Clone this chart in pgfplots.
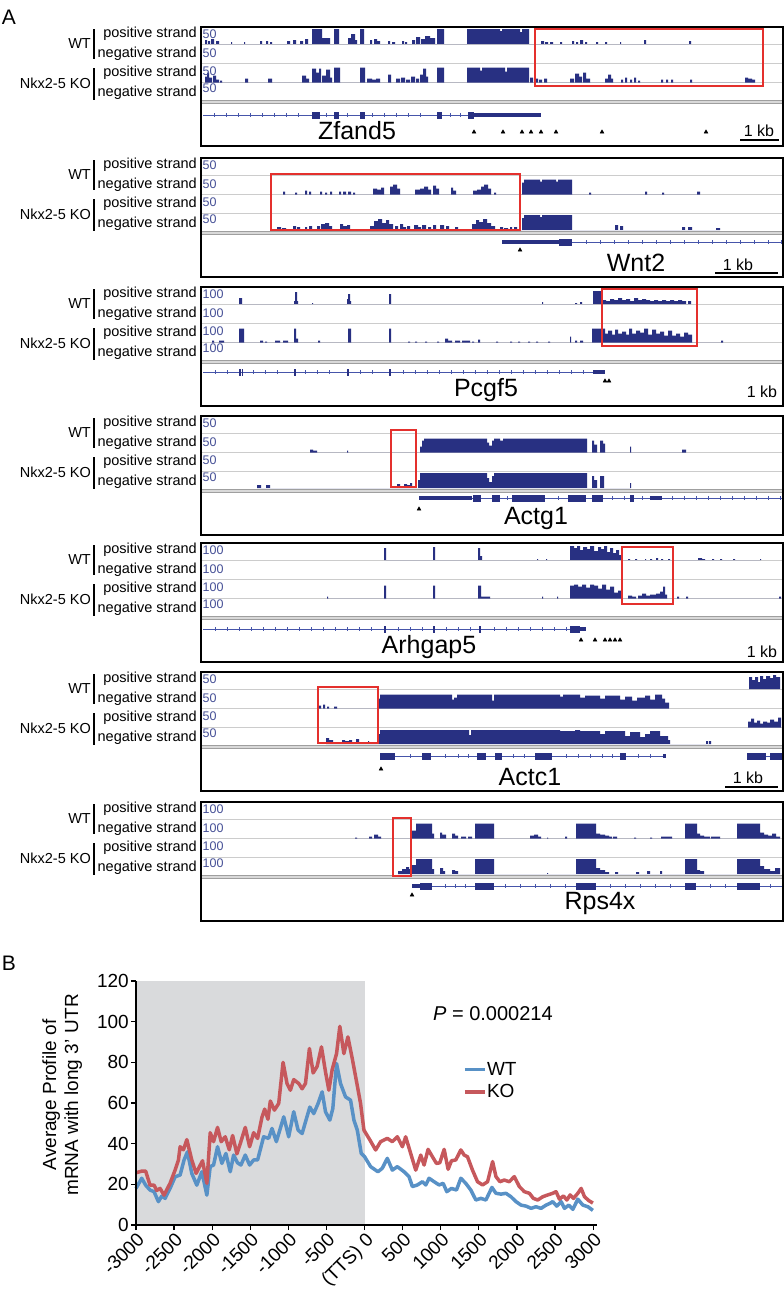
\documentclass[border=0pt]{standalone}
\usepackage{fontspec}
\setmainfont{Liberation Sans}
\usepackage{pgfplots}
\pgfplotsset{compat=1.18}
\definecolor{covc}{RGB}{40,48,130}
\definecolor{intr}{RGB}{70,85,170}
\definecolor{scl}{RGB}{70,80,150}
\definecolor{redbox}{RGB}{228,48,45}
\definecolor{wtc}{RGB}{88,145,198}
\definecolor{koc}{RGB}{198,88,92}
\definecolor{shade}{RGB}{217,218,220}
\newcommand\fA{\fontsize{14.5}{16}\selectfont}
\newcommand\fS{\fontsize{12.5}{13}\selectfont}
\newcommand\fG{\fontsize{25}{28}\selectfont}
\newcommand\fK{\fontsize{16}{18}\selectfont}
\newcommand\fB{\fontsize{19}{22}\selectfont}
\pgfplotsset{
 cov/.style={scale only axis, width=582pt, height=16pt, xmin=201, xmax=783, ymin=0, ymax=16, hide axis, anchor=south west, clip=false},
 gene/.style={scale only axis, width=582pt, height=30pt, xmin=201, xmax=783, ymin=-25, ymax=5, hide axis, anchor=south west, clip=false},
}
\newcommand\track[2]{%
\begin{axis}[cov, at={(201pt,-#1pt)}]
\addplot[const plot, fill=covc, draw=none] coordinates {#2} \closedcycle;
\end{axis}}
\newcommand\panelbg[1]{%
\begin{scope}[x=1pt,y=1pt]
\foreach \d in {17,36.5,55.5} \draw[gray!40, line width=0.7pt] (201,{-(#1+\d)}) -- (783,{-(#1+\d)});
\end{scope}}
\newcommand\panelfg[2]{%
\begin{scope}[x=1pt,y=1pt]
\fill[gray!30] (201,{-(#1+73)}) rectangle (783,{-(#1+76)});
\draw[gray!75, line width=0.7pt] (201,{-(#1+73)}) -- (783,{-(#1+73)}) (201,{-(#1+76)}) -- (783,{-(#1+76)});
\node[anchor=east, inner sep=0pt, font=\fA] at (91,{-(#1+16.5)}) {WT};
\node[anchor=east, inner sep=0pt, font=\fA] at (91,{-(#1+56)}) {Nkx2-5 KO};
\draw[line width=1.5pt] (94,{-(#1+2)}) -- (94,{-(#1+32)}) (94,{-(#1+41)}) -- (94,{-(#1+73)});
\foreach \d/\t in {7/positive,26.5/negative,46/positive,66/negative} \node[anchor=east, inner sep=0pt, font=\fA] at (197,{-(#1+\d)}) {\t\ strand};
\foreach \d in {7,26,44,61} \node[anchor=west, inner sep=0pt, font=\fS, text=scl] at (202.5,{-(#1+\d)}) {#2};
\draw[line width=1.6pt] (201,{-#1}) rectangle (783,{-(#1+119)});
\end{scope}}
\begin{document}
\begin{tikzpicture}
\path[use as bounding box] (0pt,0pt) rectangle (784pt,-1294pt);
\node[font=\fontsize{21}{22}\selectfont, inner sep=0pt] at (9pt,-17pt) {A};
\node[font=\fontsize{21}{22}\selectfont, inner sep=0pt] at (9pt,-963pt) {B};
% ---------- Panel 1: Zfand5 (T=27)
\panelbg{27}
\track{44}{(205,4)(207,0)(208,3)(210,0)(211,5)(214,0)(216,3)(219,0)(231,2)(232,0)(244,2)(245,0)(260,3)(262,0)(266,3)(268,0)(270,2)(272,0)(287,3)(290,0)(293,4)(296,0)(300,3)(303,0)(305,5)(308,0)(312,15)(322,6)(330,0)(334,15)(339,0)(348,6)(351,10)(355,4)(357,0)(360,15)(364,0)(370,4)(372,0)(374,5)(377,3)(380,0)(388,3)(390,0)(392,2)(395,0)(402,3)(404,0)(405,2)(407,0)(412,4)(415,0)(416,7)(420,0)(421,5)(425,8)(430,6)(435,0)(437,15)(444,0)(467,15)(500,13)(502,15)(520,12)(522,15)(529,0)(541,3)(544,0)(545,2)(548,0)(550,2)(553,0)(560,2)(562,0)(572,3)(574,0)(576,2)(578,0)(580,4)(583,0)(585,2)(587,0)(596,2)(598,0)(605,2)(607,0)(620,2)(621,0)(644,4)(646,0)(689,3)(691,0)}
\track{82.5}{(205,6)(207,10)(209,5)(212,0)(213,7)(216,3)(219,0)(220,2)(222,0)(245,4)(248,0)(268,4)(272,0)(302,7)(306,4)(309,0)(312,14)(316,10)(319,14)(321,0)(322,7)(326,13)(330,5)(332,0)(334,15)(340,0)(360,15)(365,0)(367,4)(372,3)(376,4)(380,0)(388,8)(391,0)(396,4)(400,0)(401,5)(405,0)(406,3)(410,0)(411,6)(415,0)(416,4)(419,0)(420,8)(423,14)(426,6)(428,0)(437,15)(444,0)(467,15)(480,12)(482,15)(505,11)(507,15)(529,0)(530,5)(533,0)(534,4)(538,0)(539,3)(542,0)(544,4)(547,0)(570,4)(574,0)(575,9)(579,6)(582,0)(583,10)(586,4)(590,0)(605,4)(608,8)(611,4)(613,0)(621,3)(623,0)(625,5)(627,0)(630,3)(632,0)(634,5)(636,0)(638,2)(640,0)(661,3)(663,0)(666,3)(668,0)(671,3)(673,0)(690,3)(692,0)(745,5)(748,4)(752,3)(755,0)}
\begin{axis}[gene, at={(201pt,-140pt)}]
\addplot[intr, line width=0.8pt] coordinates {(203,0)(470,0)};
\addplot[intr, only marks, mark=|, mark size=2pt] coordinates {(214,0)(226,0)(238,0)(250,0)(262,0)(274,0)(286,0)(298,0)(326,0)(347,0)(372,0)(384,0)(396,0)(408,0)(420,0)(450,0)(460,0)};
\addplot[covc, line width=7pt, unbounded coords=jump] coordinates {(312,0)(320,0)(nan,nan)(334,0)(339,0)(nan,nan)(360,0)(365,0)(nan,nan)(437,0)(442,0)(nan,nan)(468,0)(474,0)};
\addplot[covc, line width=4.5pt] coordinates {(474,0)(541,0)};
\addplot[black, only marks, mark=triangle*, mark size=2.2pt] coordinates {(474,-17)(503,-17)(522,-17)(531,-17)(541,-17)(556,-17)(602,-17)(706,-17)};
\end{axis}
\panelfg{27}{50}
\begin{scope}[x=1pt,y=1pt]
\node[font=\fG] at (357,-131) {Zfand5};
\node[font=\fK] at (759,-131) {1 kb};
\draw[line width=1.5pt] (740,-140) -- (779,-140);
\end{scope}
% ---------- Panel 2: Wnt2 (T=158)
\panelbg{158}
\track{194.5}{(283,3)(285,0)(295,2)(297,0)(305,4)(307,0)(309,3)(311,0)(320,3)(322,0)(325,2)(327,0)(330,3)(332,0)(339,3)(341,0)(343,3)(346,0)(348,3)(351,0)(353,2)(355,0)(373,6)(377,5)(381,7)(384,0)(390,8)(393,10)(397,6)(400,0)(415,5)(420,6)(424,8)(428,5)(431,0)(433,9)(436,6)(439,0)(451,7)(453,4)(456,0)(473,4)(477,5)(481,8)(484,10)(488,6)(491,0)(494,2)(496,0)(522,12)(524,15)(540,13)(542,15)(556,13)(558,15)(572,0)(589,2)(591,0)(645,3)(647,0)(662,2)(664,0)(697,3)(700,0)}
\track{230}{(277,3)(281,0)(282,2)(286,0)(293,4)(296,0)(297,3)(300,0)(305,3)(307,0)(309,4)(312,0)(317,4)(320,0)(321,6)(325,7)(329,4)(332,0)(340,6)(343,4)(347,5)(350,0)(370,4)(374,9)(378,11)(382,7)(386,10)(389,6)(393,0)(395,4)(398,0)(400,6)(403,3)(406,0)(407,4)(410,0)(414,5)(418,3)(421,0)(422,5)(426,0)(428,3)(431,0)(433,5)(436,0)(440,5)(444,0)(446,4)(449,0)(455,3)(458,0)(472,6)(476,10)(479,8)(483,11)(487,7)(491,4)(495,0)(500,3)(503,0)(504,2)(508,0)(510,3)(512,0)(514,3)(517,0)(522,12)(524,15)(540,13)(542,15)(572,0)(615,5)(618,0)(620,4)(623,0)(682,3)(685,0)(688,3)(692,0)(716,2)(720,0)}
\begin{axis}[gene, at={(201pt,-267pt)}]
\addplot[intr, line width=0.8pt] coordinates {(572,0)(783,0)};
\addplot[intr, only marks, mark=|, mark size=2pt] coordinates {(586,0)(600,0)(614,0)(628,0)(642,0)(656,0)(670,0)(684,0)(698,0)(712,0)(726,0)(740,0)(754,0)(768,0)(781,0)};
\addplot[covc, line width=4.5pt] coordinates {(502,0)(559,0)};
\addplot[covc, line width=7pt] coordinates {(559,0)(572,0)};
\addplot[black, only marks, mark=triangle*, mark size=2.2pt] coordinates {(520,-8)};
\end{axis}
\panelfg{158}{50}
\begin{scope}[x=1pt,y=1pt]
\node[font=\fG] at (636,-263) {Wnt2};
\node[font=\fK] at (738,-265) {1 kb};
\draw[line width=1.5pt] (715,-273) -- (778,-273);
\end{scope}
% ---------- Panel 3: Pcgf5 (T=287)
\panelbg{287}
\track{304}{(239,6)(242,0)(294,3)(295,12)(297,3)(298,0)(312,1)(313,0)(347,5)(348,10)(350,3)(351,0)(389,10)(391,0)(542,2)(543,0)(575,1)(577,0)(580,2)(582,0)(593,13)(602,4)(606,3)(610,5)(614,4)(618,6)(622,4)(626,5)(630,3)(634,6)(638,4)(642,5)(646,4)(650,3)(654,4)(658,3)(662,4)(666,3)(670,4)(674,3)(678,4)(682,3)(686,0)(688,3)(691,0)}
\track{342.5}{(212,2)(214,0)(219,2)(224,0)(239,14)(244,0)(260,2)(263,0)(265,1)(267,0)(275,2)(280,0)(283,2)(288,0)(294,14)(296,4)(298,0)(318,2)(320,0)(348,14)(351,0)(389,14)(391,0)(408,1)(410,0)(415,1)(417,0)(425,1)(427,0)(437,1)(439,0)(445,4)(448,2)(452,0)(455,2)(460,0)(462,2)(470,0)(472,1)(474,0)(478,3)(480,0)(496,1)(498,0)(510,1)(512,0)(518,1)(520,0)(528,1)(530,0)(536,1)(538,0)(548,1)(550,0)(570,6)(571,0)(575,2)(577,0)(580,2)(583,0)(592,14)(605,9)(608,12)(612,8)(615,13)(618,9)(622,11)(626,8)(629,14)(632,9)(636,12)(640,10)(644,14)(648,8)(652,13)(656,9)(660,11)(664,7)(668,12)(672,7)(676,9)(680,6)(684,10)(688,8)(692,0)(721,2)(723,0)}
\begin{axis}[gene, at={(201pt,-397pt)}]
\addplot[intr, line width=0.8pt] coordinates {(203,0)(593,0)};
\addplot[intr, only marks, mark=|, mark size=2pt] coordinates {(215,0)(227,0)(253,0)(265,0)(277,0)(305,0)(317,0)(329,0)(360,0)(372,0)(403,0)(415,0)(427,0)(439,0)(451,0)(463,0)(475,0)(487,0)(499,0)(511,0)(523,0)(535,0)(547,0)(559,0)(571,0)(583,0)};
\addplot[covc, line width=7pt, unbounded coords=jump] coordinates {(239,0)(240.5,0)(nan,nan)(241.5,0)(243,0)(nan,nan)(294,0)(296,0)(nan,nan)(347,0)(349,0)(nan,nan)(389,0)(391,0)};
\addplot[covc, line width=4.5pt] coordinates {(593,0)(605,0)};
\addplot[black, only marks, mark=triangle*, mark size=2.2pt] coordinates {(605,-9)(609,-9)};
\end{axis}
\panelfg{287}{100}
\begin{scope}[x=1pt,y=1pt]
\node[font=\fG] at (486,-390) {Pcgf5};
\node[font=\fK] at (762,-392) {1 kb};
\end{scope}
% ---------- Panel 4: Actg1 (T=416)
\panelbg{416}
\track{452.5}{(310,3)(313,2)(317,0)(347,2)(348,0)(420,6)(422,12)(424,14)(487,10)(489,7)(492,12)(494,14)(500,12)(503,14)(587,0)(592,12)(594,8)(597,0)(600,12)(603,9)(605,0)(630,6)(631,0)(682,3)(686,0)}
\track{488}{(257,3)(261,0)(266,3)(270,0)(397,4)(400,2)(402,0)(404,4)(407,3)(410,5)(412,0)(418,8)(420,15)(487,10)(489,6)(492,12)(494,15)(587,0)(592,12)(594,8)(597,0)(600,12)(604,0)(630,5)(631,0)}
\begin{axis}[gene, at={(201pt,-523pt)}]
\addplot[intr, line width=0.8pt] coordinates {(472,0)(783,0)};
\addplot[intr, only marks, mark=|, mark size=2pt] coordinates {(507,0)(558,0)(612,0)(624,0)(642,0)(672,0)(684,0)(696,0)(708,0)(720,0)(732,0)(744,0)(756,0)(768,0)(780,0)};
\addplot[covc, line width=4.5pt, unbounded coords=jump] coordinates {(419,0)(472,0)(nan,nan)(650,0)(662,0)};
\addplot[covc, line width=7pt, unbounded coords=jump] coordinates {(473,0)(481,0)(nan,nan)(492,0)(500,0)(nan,nan)(512,0)(545,0)(nan,nan)(568,0)(586,0)(nan,nan)(592,0)(603,0)(nan,nan)(630,0)(634,0)};
\addplot[black, only marks, mark=triangle*, mark size=2.2pt] coordinates {(419,-11)};
\end{axis}
\panelfg{416}{50}
\begin{scope}[x=1pt,y=1pt]
\node[font=\fG] at (536,-518) {Actg1};
\end{scope}
% ---------- Panel 5: Arhgap5 (T=543)
\panelbg{543}
\track{560}{(384,12)(386,0)(433,13)(435,0)(478,12)(480,4)(482,0)(537,1)(538,0)(546,1)(547,0)(570,14)(574,12)(577,14)(580,10)(583,13)(587,11)(590,14)(594,9)(598,13)(601,11)(604,14)(607,8)(610,12)(613,7)(616,10)(619,5)(622,0)(628,1)(630,0)(635,1)(637,0)(645,1)(646,0)(650,1)(652,0)(656,2)(658,0)(661,1)(663,0)(668,1)(670,0)(698,2)(702,1)(705,0)(712,1)(714,0)(720,1)(722,0)(733,1)(735,0)(760,1)(761,0)}
\track{598.5}{(327,2)(328,0)(384,13)(386,0)(433,13)(435,0)(478,13)(481,2)(490,0)(542,2)(543,0)(557,2)(558,0)(570,13)(574,14)(578,12)(582,14)(586,11)(590,14)(594,13)(598,10)(602,14)(606,9)(610,12)(614,6)(618,8)(622,0)(628,3)(632,2)(636,0)(638,3)(642,5)(646,3)(650,4)(656,5)(660,7)(663,12)(665,4)(667,0)(677,2)(679,0)(686,2)(688,0)(779,2)(781,0)}
\begin{axis}[gene, at={(201pt,-654pt)}]
\addplot[intr, line width=0.8pt] coordinates {(203,0)(570,0)};
\addplot[intr, only marks, mark=|, mark size=2pt] coordinates {(215,0)(227,0)(239,0)(251,0)(263,0)(275,0)(287,0)(299,0)(311,0)(323,0)(335,0)(347,0)(359,0)(371,0)(398,0)(410,0)(422,0)(446,0)(458,0)(470,0)(494,0)(506,0)(518,0)(530,0)(542,0)(554,0)(566,0)};
\addplot[covc, line width=7pt, unbounded coords=jump] coordinates {(384,0)(386,0)(nan,nan)(433,0)(435,0)(nan,nan)(479,0)(481,0)(nan,nan)(570,0)(580,0)};
\addplot[covc, line width=4.5pt] coordinates {(580,0)(586,0)};
\addplot[black, only marks, mark=triangle*, mark size=2.2pt] coordinates {(581,-11)(595,-11)(605,-11)(610,-11)(615,-11)(620,-11)};
\end{axis}
\panelfg{543}{100}
\begin{scope}[x=1pt,y=1pt]
\node[font=\fG] at (429,-647) {Arhgap5};
\node[font=\fK] at (762,-652) {1 kb};
\end{scope}
% ---------- Panel 6: Actc1 (T=672)
\panelbg{672}
\track{689}{(749,12)(752,9)(755,12)(758,7)(760,13)(763,10)(766,13)(770,11)(773,14)(776,12)(780,0)}
\track{708.5}{(319,3)(321,0)(323,4)(325,0)(327,2)(329,0)(334,2)(337,0)(378,10)(380,14)(452,9)(454,11)(457,14)(492,8)(494,14)(560,12)(563,14)(580,11)(585,13)(600,10)(605,13)(620,9)(625,12)(632,8)(637,11)(645,13)(650,9)(655,14)(662,10)(665,6)(669,0)}
\track{727.5}{(748,6)(751,9)(754,5)(757,7)(760,4)(763,6)(767,5)(770,8)(774,6)(778,10)(781,0)}
\track{744}{(326,6)(329,4)(333,2)(336,0)(342,4)(345,3)(349,4)(352,2)(356,5)(359,0)(368,3)(369,0)(378,10)(380,14)(469,9)(471,14)(560,13)(575,14)(580,13)(600,10)(605,13)(625,8)(630,12)(640,7)(645,10)(650,13)(660,8)(668,4)(670,0)(706,3)(708,0)(709,3)(711,0)}
\begin{axis}[gene, at={(201pt,-781pt)}]
\addplot[intr, line width=0.8pt, unbounded coords=jump] coordinates {(395,0)(665,0)(nan,nan)(747,0)(783,0)};
\addplot[intr, only marks, mark=|, mark size=2pt] coordinates {(410,0)(445,0)(458,0)(468,0)(513,0)(524,0)(566,0)(578,0)(590,0)(602,0)(612,0)(638,0)(650,0)};
\addplot[covc, line width=7pt, unbounded coords=jump] coordinates {(380,0)(395,0)(nan,nan)(422,0)(431,0)(nan,nan)(477,0)(486,0)(nan,nan)(495,0)(502,0)(nan,nan)(535,0)(552,0)(nan,nan)(620,0)(626,0)(nan,nan)(747,0)(766,0)(nan,nan)(770,0)(783,0)};
\addplot[covc, line width=4.5pt] coordinates {(663,0)(666,0)};
\addplot[black, only marks, mark=triangle*, mark size=2.2pt] coordinates {(381,-13)};
\end{axis}
\panelfg{672}{50}
\begin{scope}[x=1pt,y=1pt]
\node[font=\fG] at (530,-777) {Actc1};
\node[font=\fK] at (748,-778) {1 kb};
\draw[line width=1.5pt] (725,-787) -- (778,-787);
\end{scope}
% ---------- Panel 7: Rps4x (T=802)
\panelbg{802}
\track{838.5}{(355,1)(357,0)(369,2)(372,0)(374,4)(378,2)(381,0)(412,8)(416,15)(432,5)(434,0)(440,6)(442,4)(446,0)(452,5)(455,3)(458,0)(461,2)(466,0)(468,2)(472,0)(475,15)(494,0)(530,3)(534,4)(538,2)(541,0)(547,1)(548,0)(565,2)(567,0)(576,15)(596,5)(600,4)(605,3)(609,2)(612,0)(613,2)(617,0)(634,1)(636,0)(650,1)(652,0)(661,2)(672,0)(685,15)(697,5)(700,3)(704,2)(710,0)(711,2)(720,0)(737,15)(760,6)(764,4)(768,3)(772,5)(776,2)(780,0)}
\track{874}{(398,3)(402,5)(406,7)(409,5)(411,0)(412,9)(416,15)(432,5)(434,0)(440,6)(443,3)(445,0)(452,4)(455,3)(458,0)(475,15)(494,0)(547,1)(548,0)(576,15)(596,6)(600,4)(605,2)(609,0)(615,2)(618,0)(636,2)(639,0)(647,3)(650,0)(660,3)(662,0)(685,15)(697,4)(700,3)(704,0)(737,15)(760,8)(764,5)(770,3)(775,6)(780,0)}
\begin{axis}[gene, at={(201pt,-911pt)}]
\addplot[intr, line width=0.8pt] coordinates {(432,0)(783,0)};
\addplot[intr, only marks, mark=|, mark size=2pt] coordinates {(445,0)(455,0)(465,0)(505,0)(520,0)(535,0)(550,0)(565,0)(610,0)(625,0)(640,0)(655,0)(670,0)(710,0)(725,0)(770,0)};
\addplot[covc, line width=4.5pt] coordinates {(412,0)(420,0)};
\addplot[covc, line width=7pt, unbounded coords=jump] coordinates {(420,0)(432,0)(nan,nan)(475,0)(494,0)(nan,nan)(576,0)(596,0)(nan,nan)(685,0)(696,0)(nan,nan)(737,0)(760,0)};
\addplot[black, only marks, mark=triangle*, mark size=2.2pt] coordinates {(412,-9)};
\end{axis}
\panelfg{802}{100}
\begin{scope}[x=1pt,y=1pt]
\node[font=\fG] at (600,-903) {Rps4x};
% red boxes
\draw[redbox, line width=1.8pt] (535,-29) rectangle (763,-86);
\draw[redbox, line width=1.8pt] (271,-174) rectangle (520,-230);
\draw[redbox, line width=1.8pt] (602,-289) rectangle (697,-346);
\draw[redbox, line width=1.8pt] (391,-430) rectangle (416,-487);
\draw[redbox, line width=1.8pt] (622,-547) rectangle (673,-604);
\draw[redbox, line width=1.8pt] (318,-687) rectangle (378,-743);
\draw[redbox, line width=1.8pt] (393,-818) rectangle (411,-876);
\end{scope}
% ---------- Panel B
\begin{axis}[at={(136pt,-1225pt)}, anchor=south west, scale only axis, width=461pt, height=244pt,
 xmin=-3000, xmax=3050, ymin=0, ymax=120, axis on top,
 axis x line*=bottom, axis y line*=left, axis line style={-, line width=1.5pt},
 xtick={-3000,-2500,...,3000},
 xticklabels={-3000,-2500,-2000,-1500,-1000,-500,{(TTS) 0},500,1000,1500,2000,2500,3000},
 ytick={0,20,...,120}, yticklabels={0,20,40,60,80,100,120},
 tick align=outside, major tick length=5pt, tick style={black, line width=1.2pt},
 xticklabel style={font=\fB, rotate=45, anchor=north east, inner sep=1pt},
 yticklabel style={font=\fB, inner sep=2pt},
 ylabel={Average Profile of\\mRNA with long 3’\,\,UTR},
 ylabel style={font=\fB, align=center, at={(axis description cs:-0.16,0.533)}, anchor=center},
 legend style={at={(axis cs:1289,71)}, anchor=west, draw=none, fill=none, font=\fB, inner sep=0pt, row sep=7pt, nodes={inner sep=0.5pt}},
 legend cell align=left,
 legend image code/.code={\draw[#1, line width=3.5pt] (0pt,0pt) -- (20pt,0pt);},
 clip=false]
\addplot[fill=shade, draw=none, forget plot] coordinates {(-3000,0)(-3000,120)(0,120)(0,0)};
\addplot[wtc, line width=3.5pt, line join=round] coordinates {(-3000,18)(-2925,23)(-2873,19.6)(-2816,17.2)(-2763,16.4)(-2706,11.5)(-2662,14.2)(-2618,13.1)(-2553,18)(-2487,23.7)(-2421,24.6)(-2369,32)(-2325,36)(-2268,25.4)(-2202,19.6)(-2136,26.2)(-2070,14.7)(-2026,28.7)(-1982,29.5)(-1930,38.5)(-1873,30.3)(-1820,35.2)(-1763,26.2)(-1719,34.4)(-1667,30.6)(-1623,29.5)(-1566,34.4)(-1509,29.5)(-1456,32)(-1404,32)(-1325,43.4)(-1259,42.6)(-1215,47.5)(-1158,41)(-1061,53.2)(-996,43.4)(-930,55.7)(-873,46.7)(-820,45)(-719,58)(-667,54.8)(-610,59.8)(-557,65.5)(-513,55.7)(-456,51.6)(-417,57.3)(-368,79.4)(-316,69.6)(-250,63)(-184,61.4)(-140,51.6)(-96,46.7)(-44,35.2)(0,33.6)(79,28.7)(175,26.2)(232,27.9)(298,32.8)(364,27)(430,28.7)(518,26.2)(583,23.8)(627,18.9)(693,19.7)(759,21.3)(803,19.7)(846,23)(912,21.3)(978,19.7)(1031,20.5)(1079,16.4)(1140,18)(1206,17.2)(1263,23)(1328,20.5)(1394,17.2)(1460,12.3)(1526,13.1)(1592,12.3)(1671,18.5)(1724,15.6)(1790,15.2)(1855,15.6)(1921,13.9)(1987,11.5)(2053,9.8)(2119,9.3)(2185,8.2)(2250,9)(2316,8.2)(2382,9.8)(2435,10.7)(2469,11.5)(2522,9.3)(2579,11.5)(2623,8.2)(2680,9.8)(2733,7.7)(2798,12.7)(2864,9.8)(2930,9)(2996,7.2)};
\addlegendentry{WT}
\addplot[koc, line width=3.5pt, line join=round] coordinates {(-3000,25.7)(-2925,26.5)(-2873,26.5)(-2816,19.6)(-2763,19.6)(-2728,17)(-2684,18)(-2632,14.7)(-2553,20.5)(-2487,27)(-2443,32)(-2421,38.5)(-2377,37)(-2333,42)(-2268,32)(-2211,25.4)(-2167,28.7)(-2127,31.6)(-2070,20.5)(-2026,45.4)(-1982,41)(-1930,48)(-1882,41)(-1829,43.4)(-1776,37)(-1732,44)(-1676,35)(-1632,40)(-1566,48)(-1509,38.5)(-1456,45.4)(-1404,42.6)(-1347,53)(-1311,57)(-1268,52)(-1237,61)(-1184,56.5)(-1127,59.8)(-1070,80)(-1018,69.6)(-974,66.3)(-930,71.5)(-864,69.6)(-820,67)(-776,69.6)(-724,86.8)(-675,74.8)(-623,78)(-566,87.6)(-513,75.3)(-469,66.3)(-425,76.5)(-368,84.3)(-325,97.7)(-272,84.3)(-219,92.5)(-162,81.9)(-105,70.4)(-53,59.8)(-9,46.7)(70,41.8)(145,36.9)(210,41)(298,42.6)(364,41)(430,43.4)(496,38.5)(539,43.4)(605,35.2)(671,27)(737,34.4)(781,29.5)(833,37.2)(890,33.6)(943,30.3)(987,30.6)(1044,37.2)(1096,27.4)(1140,31.6)(1197,32)(1263,36.9)(1307,34.4)(1350,33.6)(1416,27)(1482,21.3)(1548,19.7)(1614,21.3)(1680,31.2)(1724,23.8)(1776,21.3)(1833,22.1)(1899,21.3)(1965,23.8)(2031,18.9)(2097,16.4)(2163,15.6)(2215,13.1)(2272,12.3)(2338,13.9)(2404,14.8)(2469,15.6)(2513,16.4)(2557,12.7)(2610,14.3)(2654,12.3)(2698,14.8)(2741,13.1)(2798,15.6)(2842,18)(2886,13.9)(2943,12)(2996,10.8)};
\addlegendentry{KO}
\node[font=\fontsize{20}{22}\selectfont] at (axis cs:1684,104) {\textit{P} = 0.000214};
\end{axis}
\end{tikzpicture}
\end{document}
